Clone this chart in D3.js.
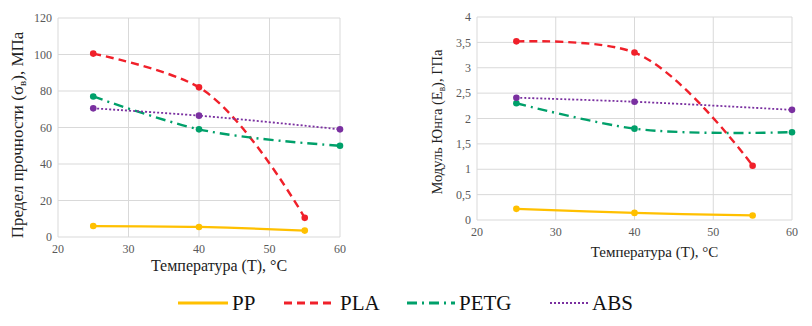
<!DOCTYPE html>
<html><head><meta charset="utf-8">
<script src="https://cdn.jsdelivr.net/npm/d3@7"></script>
<style>body{margin:0;background:#fff}svg{display:block}</style>
</head><body><svg id="c" width="812" height="326"></svg>
<script>
const seriesNames = ["PP", "PLA", "PETG", "ABS"];
const colors = ["#FFC000", "#F0202A", "#00A06A", "#7A30A0"];
// left chart: tensile strength, MPa
const strengthPP   = [[25, 6], [40, 5.5], [55, 3.5]];
const strengthPLA  = [[25, 100.5], [40, 82], [55, 10.5]];
const strengthPETG = [[25, 77], [40, 59], [60, 50]];
const strengthABS  = [[25, 70.5], [40, 66.5], [60, 59]];
// right chart: Young's modulus, GPa
const modulusPP   = [[25, 0.22], [40, 0.14], [55, 0.09]];
const modulusPLA  = [[25, 3.52], [40, 3.3], [55, 1.07]];
const modulusPETG = [[25, 2.3], [40, 1.8], [60, 1.73]];
const modulusABS  = [[25, 2.41], [40, 2.33], [60, 2.17]];
const xTicks = [20, 30, 40, 50, 60];
const yTicksLeft = [0, 20, 40, 60, 80, 100, 120];
const yTicksRight = [0, 0.5, 1, 1.5, 2, 2.5, 3, 3.5, 4];

const FONT = "'Liberation Serif', 'Times New Roman', serif";
const svg = d3.select("#c");
const dashes = [null, "8,5", "10,5,2,5", "2,2"];
const widths = [2.2, 2.4, 2.4, 1.8];
const fmt = d => String(d).replace(".", ",");

function chart(o) {
  const x = d3.scaleLinear().domain([20, 60]).range([o.l, o.r]);
  const y = d3.scaleLinear().domain([0, o.ymax]).range([o.b, o.t]);
  const g = svg.append("g");
  g.append("g").selectAll("line").data(o.yt).join("line")
    .attr("x1", o.l).attr("x2", o.r).attr("y1", d => y(d)).attr("y2", d => y(d))
    .attr("stroke", "#d9d9d9").attr("stroke-width", 1);
  g.append("g").selectAll("line").data(xTicks).join("line")
    .attr("y1", o.t).attr("y2", o.b).attr("x1", d => x(d)).attr("x2", d => x(d))
    .attr("stroke", "#d9d9d9").attr("stroke-width", 1);
  g.append("g").selectAll("text").data(o.yt).join("text")
    .attr("x", o.l - 6).attr("y", d => y(d)).attr("dy", "0.35em").style("font-family", FONT)
    .attr("text-anchor", "end").style("font-size", o.tfs + "px").attr("fill", "#595959").text(fmt);
  g.append("g").selectAll("text").data(xTicks).join("text")
    .attr("x", d => x(d)).attr("y", o.b + o.xtOff).style("font-family", FONT)
    .attr("text-anchor", "middle").style("font-size", o.tfs + "px").attr("fill", "#595959").text(d => d);
  const line = d3.line().x(d => x(d[0])).y(d => y(d[1])).curve(d3.curveCatmullRom.alpha(1));
  o.data.forEach((s, i) => {
    g.append("path").attr("d", line(s)).attr("fill", "none").attr("stroke", colors[i])
      .attr("stroke-width", widths[i]).attr("stroke-dasharray", dashes[i]);
    g.append("g").selectAll("circle").data(s).join("circle")
      .attr("cx", d => x(d[0])).attr("cy", d => y(d[1])).attr("r", 3.3).attr("fill", colors[i]);
  });
  g.append("text").attr("x", (o.l + o.r) / 2 + o.xtDx).attr("y", o.xtY).attr("text-anchor", "middle")
    .style("font-family", FONT).style("font-size", o.afs + "px").attr("fill", "#222").text("Температура (Т), °С");
  const yl = g.append("text").attr("transform", `translate(${o.ylX},${o.ylY}) rotate(-90)`)
    .style("font-family", FONT).attr("text-anchor", "middle").style("font-size", o.yfs + "px").attr("fill", "#222");
  yl.append("tspan").text(o.yLabel[0]);
  yl.append("tspan").style("font-size", (o.yfs * 0.65) + "px").attr("dy", 3).text(o.yLabel[1]);
  yl.append("tspan").attr("dy", -3).text(o.yLabel[2]);
}

chart({l: 58, r: 340, t: 18, b: 237, ymax: 120, yt: yTicksLeft, tfs: 12, xtOff: 16, afs: 16,
  xtY: 271, xtDx: 20, ylX: 23, ylY: 135, yfs: 17,
  yLabel: ["Предел прочности (σ", "в", "), МПа"],
  data: [strengthPP, strengthPLA, strengthPETG, strengthABS]});
chart({l: 477, r: 792, t: 17, b: 220, ymax: 4, yt: yTicksRight, tfs: 12, xtOff: 16, afs: 15,
  xtY: 257, xtDx: 20, ylX: 442, ylY: 122, yfs: 14.5,
  yLabel: ["Модуль Юнга (E", "в", "), ГПа"],
  data: [modulusPP, modulusPLA, modulusPETG, modulusABS]});

// legend
const legX = [178, 284, 407, 550];
const legW = [50, 52, 48, 38];
const lg = svg.append("g");
seriesNames.forEach((n, i) => {
  lg.append("line").attr("x1", legX[i]).attr("x2", legX[i] + legW[i]).attr("y1", 303).attr("y2", 303)
    .attr("stroke", colors[i]).attr("stroke-width", i === 3 ? 2 : 2.8).attr("stroke-dasharray", dashes[i]);
  lg.append("text").attr("x", legX[i] + legW[i] + 4).attr("y", 303).attr("dy", "0.35em")
    .style("font-family", FONT).style("font-size", "21px").attr("fill", "#111").text(n);
});
</script></body></html>
